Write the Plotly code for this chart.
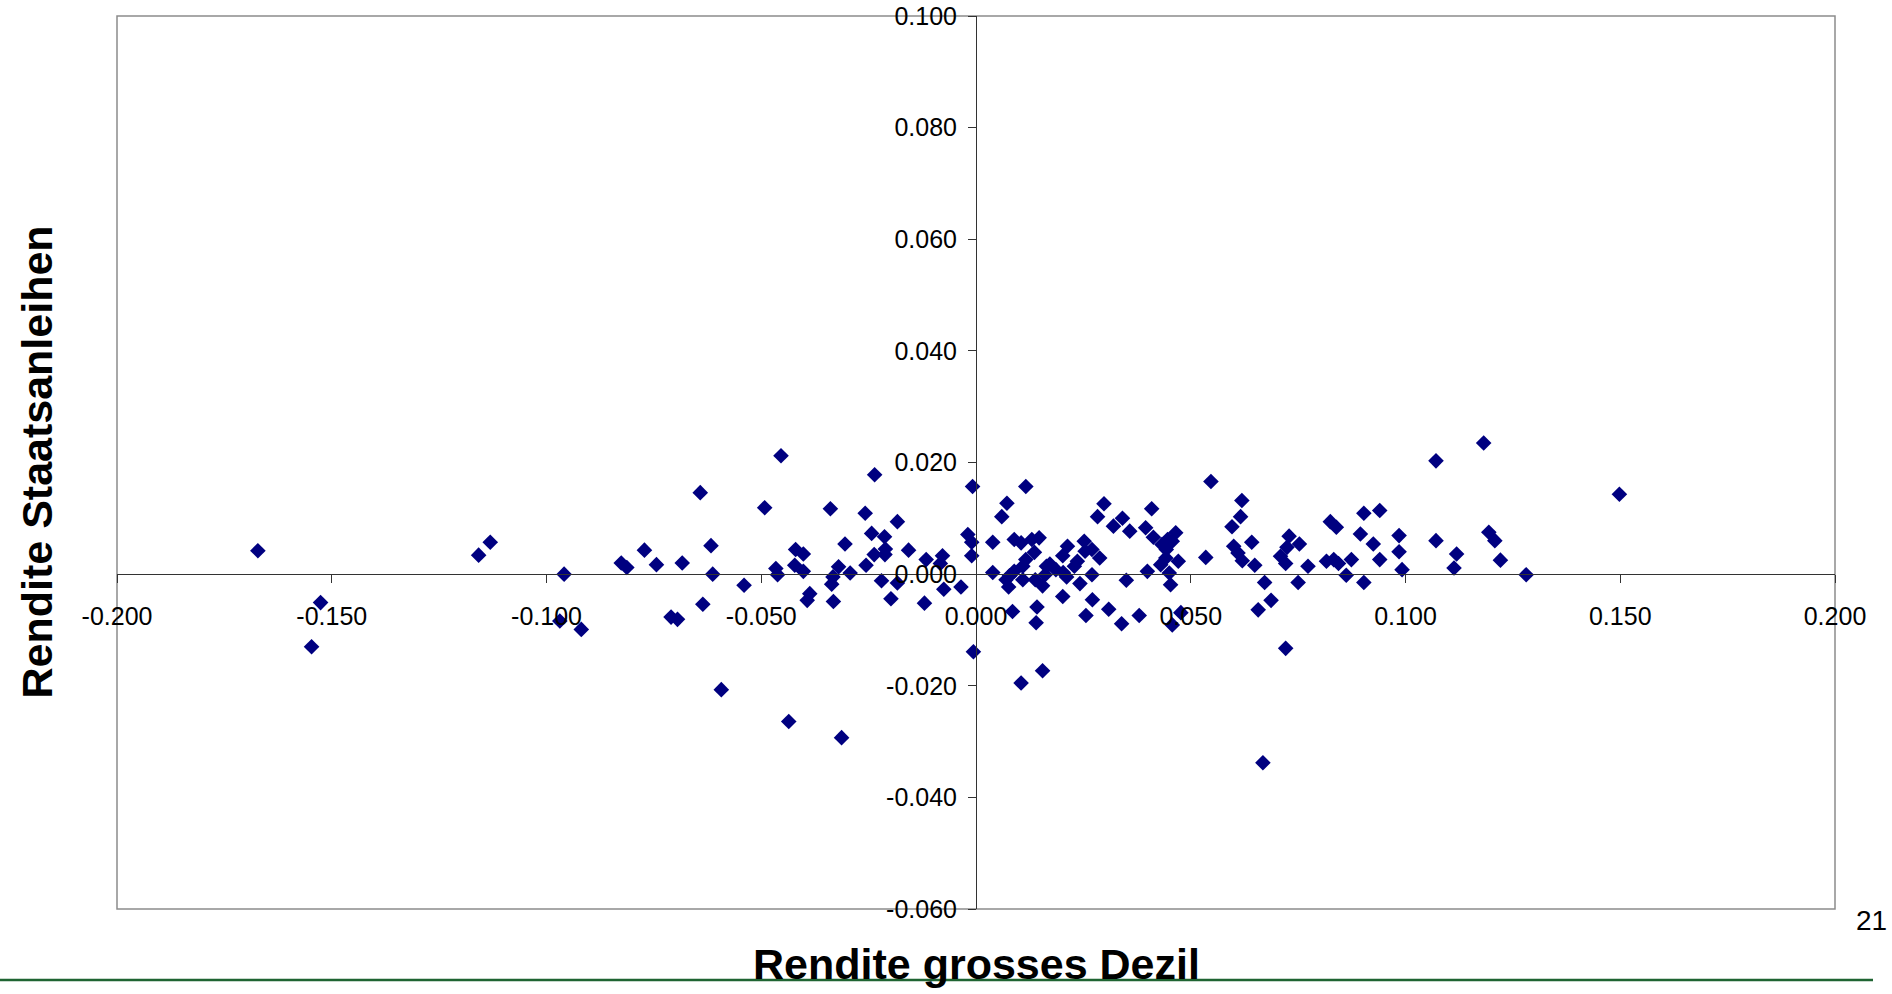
import plotly.graph_objects as go

# ---- data (Rendite grosses Dezil, Rendite Staatsanleihen) ----
dezil = [
    -0.1672, -0.1526, -0.1547, -0.1158, -0.1131, -0.0959, -0.0969, -0.0919, -0.0826, -0.0813,
    -0.0772, -0.0744, -0.0710, -0.0695, -0.0684, -0.0642, -0.0617, -0.0613, -0.0636, -0.0593,
    -0.0540, -0.0492, -0.0454, -0.0466, -0.0462, -0.0436, -0.0420, -0.0402, -0.0422, -0.0402,
    -0.0387, -0.0393, -0.0339, -0.0333, -0.0336, -0.0332, -0.0320, -0.0313, -0.0305, -0.0293,
    -0.0258, -0.0243, -0.0236, -0.0256, -0.0237, -0.0220, -0.0213, -0.0211, -0.0212, -0.0198,
    -0.0183, -0.0183, -0.0157, -0.0120, -0.0116, -0.0078, -0.0083, -0.0075,
    -0.0006, 0.0105, 0.0155,
    -0.0008, 0.0116, 0.0072, 0.0060, -0.0019, -0.0010, -0.0010, 0.0039, 0.0039, -0.0035,
    0.0089, 0.0105, 0.0130, 0.0147, 0.0136, 0.0116, 0.0109, 0.0089, 0.0078, 0.0070,
    0.0076, 0.0109, 0.0138, 0.0155, 0.0085, 0.0142, 0.0140, 0.0164, 0.0172, 0.0161,
    0.0186, 0.0202, 0.0213, 0.0203, 0.0211, 0.0202, 0.0229, 0.0236, 0.0242, 0.0252,
    0.0254, 0.0270, 0.0270, 0.0256, 0.0271, 0.0283, 0.0298, 0.0288, 0.0309, 0.0320,
    0.0341, 0.0358, 0.0350, 0.0339, 0.0380, 0.0395, 0.0409, 0.0413, 0.0399, 0.0433,
    0.0446, 0.0465, 0.0457, 0.0443, 0.0442, 0.0430, 0.0450, 0.0471, 0.0453, 0.0457,
    0.0477, 0.0535, 0.0547,
    0.0596, 0.0619, 0.0616, 0.0600, 0.0610, 0.0620, 0.0642, 0.0649, 0.0657, 0.0672,
    0.0687, 0.0721, 0.0709, 0.0721, 0.0724, 0.0729, 0.0753, 0.0750, 0.0773, 0.0816,
    0.0825, 0.0839, 0.0833, 0.0844, 0.0862, 0.0874, 0.0895, 0.0903, 0.0903, 0.0925,
    0.0940, 0.0940, 0.0985, 0.0985, 0.0992, 0.1071, 0.1071, 0.1119, 0.1113, 0.1182,
    0.1194, 0.1208, 0.1221, 0.1281, 0.1498, 0.0668,
]
staatsanleihen = [
    0.0042, -0.0051, -0.0130, 0.0034, 0.0057, 0.0000, -0.0084, -0.0099, 0.0020, 0.0012,
    0.0043, 0.0017, -0.0077, -0.0081, 0.0020, 0.0146, 0.0051, 0.0000, -0.0054, -0.0207,
    -0.0020, 0.0119, 0.0212, 0.0010, -0.0001, -0.0264, 0.0044, 0.0036, 0.0016, 0.0005,
    -0.0035, -0.0047, 0.0117, -0.0005, -0.0018, -0.0049, 0.0013, -0.0293, 0.0054, 0.0002,
    0.0109, 0.0073, 0.0178, 0.0016, 0.0035, -0.0012, 0.0067, 0.0045, 0.0035, -0.0044,
    0.0094, -0.0016, 0.0043, -0.0052, 0.0026, 0.0033, 0.0019, -0.0027,
    -0.0139, -0.0195, -0.0173,
    0.0157, 0.0157, 0.0127, 0.0103, 0.0071, 0.0057, 0.0033, 0.0057, 0.0003, -0.0023,
    0.0062, 0.0056, 0.0062, 0.0065, 0.0039, 0.0026, 0.0014, 0.0005, -0.0003, -0.0010,
    -0.0023, -0.0010, -0.0010, -0.0021, -0.0067, -0.0059, -0.0087, 0.0014, 0.0018, -0.0001,
    0.0008, 0.0033, 0.0050, 0.0003, -0.0005, -0.0040, 0.0014, 0.0023, -0.0017, 0.0059,
    0.0041, 0.0044, -0.0001, -0.0074, -0.0046, 0.0103, 0.0126, 0.0029, -0.0063, 0.0086,
    0.0100, 0.0077, -0.0011, -0.0089, -0.0074, 0.0083, 0.0117, 0.0066, 0.0005, 0.0053,
    0.0062, 0.0074, 0.0059, 0.0044, 0.0029, 0.0017, 0.0002, 0.0023, -0.0019, -0.0091,
    -0.0069, 0.0030, 0.0166,
    0.0085, 0.0132, 0.0103, 0.0050, 0.0038, 0.0024, 0.0057, 0.0016, -0.0064, -0.0015,
    -0.0047, -0.0133, 0.0032, 0.0019, 0.0048, 0.0068, 0.0054, -0.0015, 0.0014, 0.0023,
    0.0094, 0.0084, 0.0026, 0.0019, -0.0002, 0.0026, 0.0072, 0.0109, -0.0015, 0.0054,
    0.0114, 0.0026, 0.0069, 0.0040, 0.0008, 0.0203, 0.0060, 0.0036, 0.0011, 0.0235,
    0.0075, 0.0060, 0.0025, -0.0001, 0.0143, -0.0338,
]

x_tickvals = [-0.200, -0.150, -0.100, -0.050, 0.000, 0.050, 0.100, 0.150, 0.200]
x_ticktext = ["-0.200", "-0.150", "-0.100", "-0.050", "0.000", "0.050", "0.100", "0.150", "0.200"]
y_tickvals = [-0.060, -0.040, -0.020, 0.000, 0.020, 0.040, 0.060, 0.080, 0.100]
y_ticktext = ["-0.060", "-0.040", "-0.020", "0.000", "0.020", "0.040", "0.060", "0.080", "0.100"]

x_title = "Rendite grosses Dezil"
y_title = "Rendite Staatsanleihen"
page_number = "21"

FONT = "Liberation Sans, Arial, sans-serif"
W, H = 1892, 994
ML, MR, MT, MB = 117, 57, 16, 85
PW, PH = W - ML - MR, H - MT - MB

def px_x(p):  # pixel -> paper x
    return (p - ML) / PW

def px_y(p):  # pixel -> paper y
    return (H - MB - p) / PH

fig = go.Figure()
fig.add_trace(go.Scatter(
    x=dezil, y=staatsanleihen, mode="markers",
    marker=dict(symbol="diamond", size=12, color="#000080", line=dict(width=0)),
    showlegend=False, cliponaxis=False,
))

axis_common = dict(
    showgrid=False, zeroline=False, showline=True, linecolor="#333333", linewidth=1,
    ticks="outside", ticklen=8, tickcolor="#333333", tickwidth=1,
    tickfont=dict(family=FONT, size=25, color="#000000"),
    tickmode="array", anchor="free", automargin=False,
)

fig.update_layout(
    width=W, height=H,
    margin=dict(l=ML, r=MR, t=MT, b=MB, autoexpand=False),
    paper_bgcolor="white", plot_bgcolor="white",
    xaxis=dict(range=[-0.2, 0.2], tickvals=x_tickvals, ticktext=x_ticktext,
               position=0.375, ticklabelstandoff=12, **axis_common),
    yaxis=dict(range=[-0.06, 0.1], tickvals=y_tickvals, ticktext=y_ticktext,
               position=0.5, ticklabelstandoff=6, **axis_common),
    shapes=[
        dict(type="rect", xref="paper", yref="paper", x0=0, x1=1, y0=0, y1=1,
             line=dict(color="#8c8c8c", width=1.5), layer="below"),
        dict(type="line", xref="paper", yref="paper", x0=px_x(0), x1=px_x(1873),
             y0=px_y(980), y1=px_y(980), line=dict(color="#1F6432", width=2.5)),
    ],
    annotations=[
        dict(text=f"<b>{y_title}</b>", xref="paper", yref="paper", x=px_x(36), y=0.5,
             xanchor="center", yanchor="middle", textangle=-90, showarrow=False,
             font=dict(family=FONT, size=43, color="#000000")),
        dict(text=f"<b>{x_title}</b>", xref="paper", yref="paper", x=0.5, y=px_y(964),
             xanchor="center", yanchor="middle", showarrow=False,
             font=dict(family=FONT, size=43, color="#000000")),
        dict(text=page_number, xref="paper", yref="paper", x=px_x(1871), y=px_y(920),
             xanchor="center", yanchor="middle", showarrow=False,
             font=dict(family=FONT, size=28, color="#000000")),
    ],
)

fig.write_html("out.html", config={"displayModeBar": False},
               post_script="document.body.style.margin='0';document.body.style.overflow='hidden';")
